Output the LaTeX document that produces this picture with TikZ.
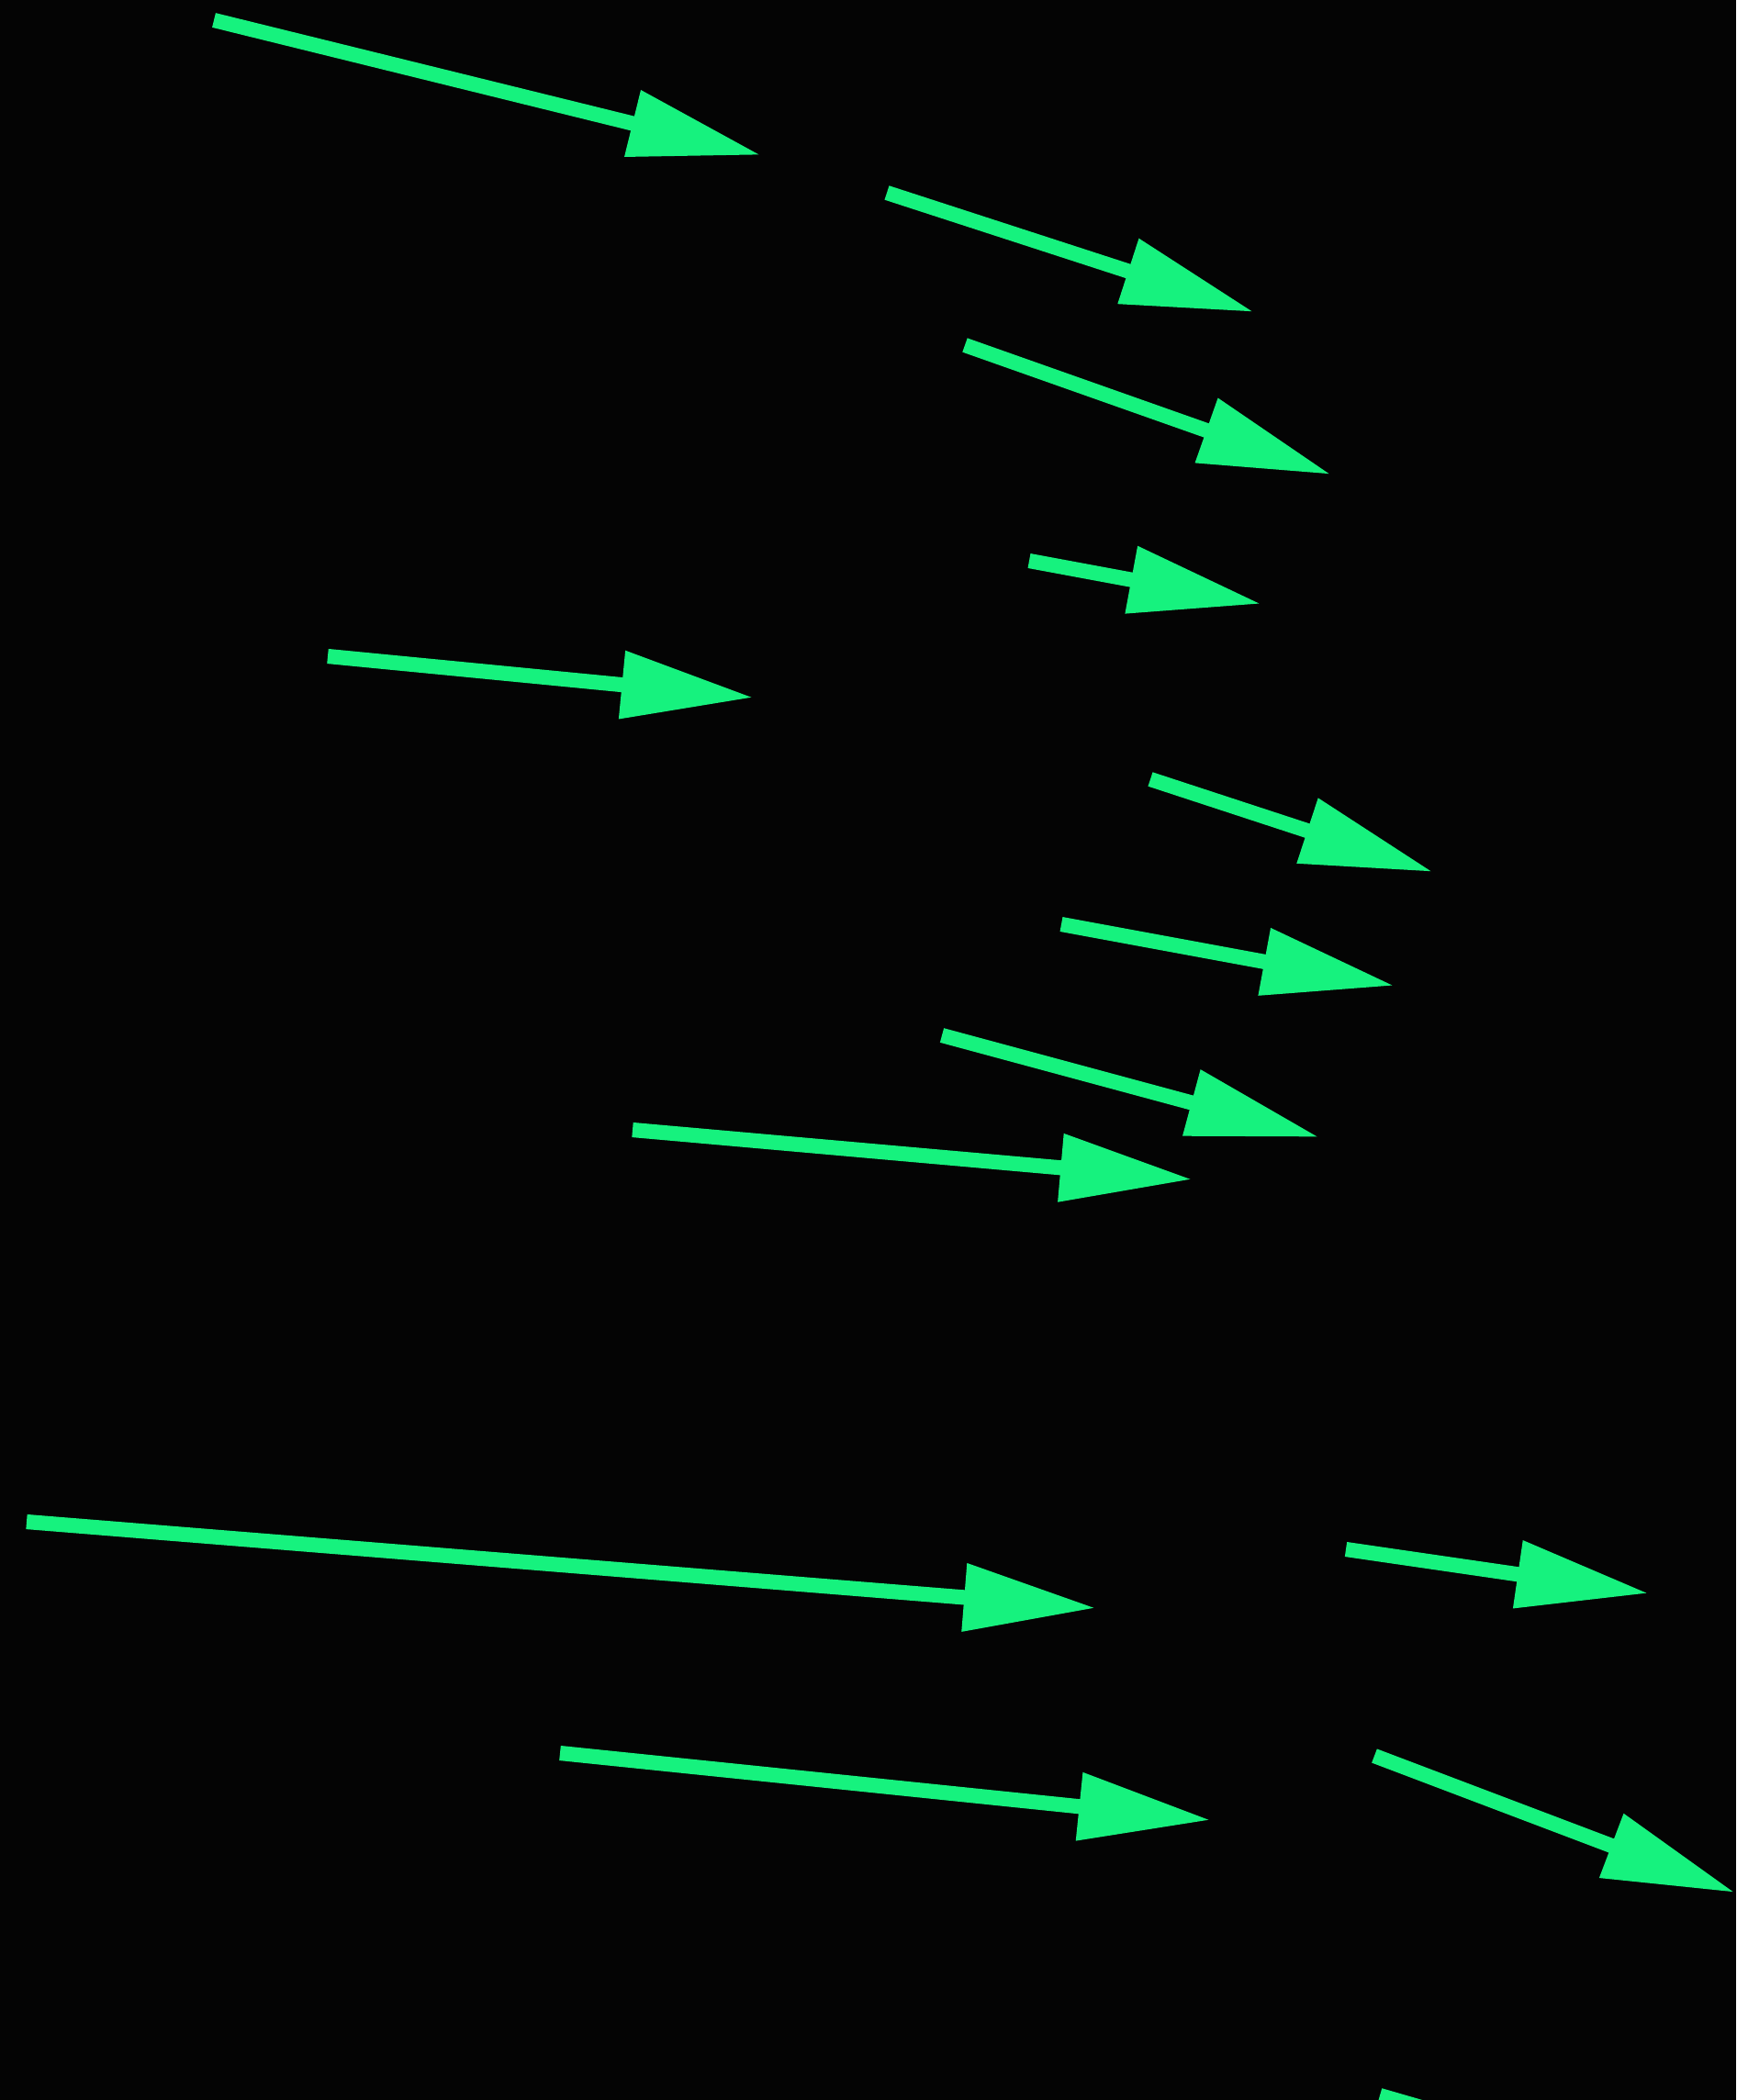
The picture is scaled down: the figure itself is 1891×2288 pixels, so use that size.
\documentclass[tikz,border=0pt]{standalone}
\usetikzlibrary{arrows.meta}
\definecolor{arrowgreen}{RGB}{22,242,126}
\definecolor{bgblack}{RGB}{4,4,4}
\begin{document}
\begin{tikzpicture}[x=0.01cm,y=-0.01cm,
  vec/.style={draw=arrowgreen, line width=4.6pt, -{Triangle[length=41pt,width=20pt]}}]
\fill[bgblack] (0,0) rectangle (1891,2288);
\useasboundingbox (0,0) rectangle (1891,2288);
\clip (0,0) rectangle (1891,2288);
\coordinate (s1) at (233,22);   \coordinate (t1) at (829,169);
\coordinate (s2) at (966,210);  \coordinate (t2) at (1366,340);
\coordinate (s3) at (1051,376); \coordinate (t3) at (1450,517);
\coordinate (s4) at (1121,611); \coordinate (t4) at (1374,658);
\coordinate (s5) at (357,715);  \coordinate (t5) at (821,760);
\coordinate (s6) at (1253,849); \coordinate (t6) at (1561,950);
\coordinate (s7) at (1156,1007);\coordinate (t7) at (1519,1074);
\coordinate (s8) at (1026,1128);\coordinate (t8) at (1437,1239);
\coordinate (s9) at (689,1231); \coordinate (t9) at (1299,1285);
\coordinate (s10) at (29,1658); \coordinate (t10) at (1194,1752);
\coordinate (s11) at (1466,1688);\coordinate (t11) at (1796,1736);
\coordinate (s12) at (610,1910);\coordinate (t12) at (1319,1983);
\coordinate (s13) at (1497,1913);\coordinate (t13) at (1890,2062);
\coordinate (s14) at (1503,2283);\coordinate (t14) at (1700,2340);
\foreach \i in {1,...,13} {\draw[vec] (s\i) -- (t\i);}
\draw[draw=arrowgreen, line width=4.6pt] (s14) -- (t14);
\end{tikzpicture}
\end{document}
